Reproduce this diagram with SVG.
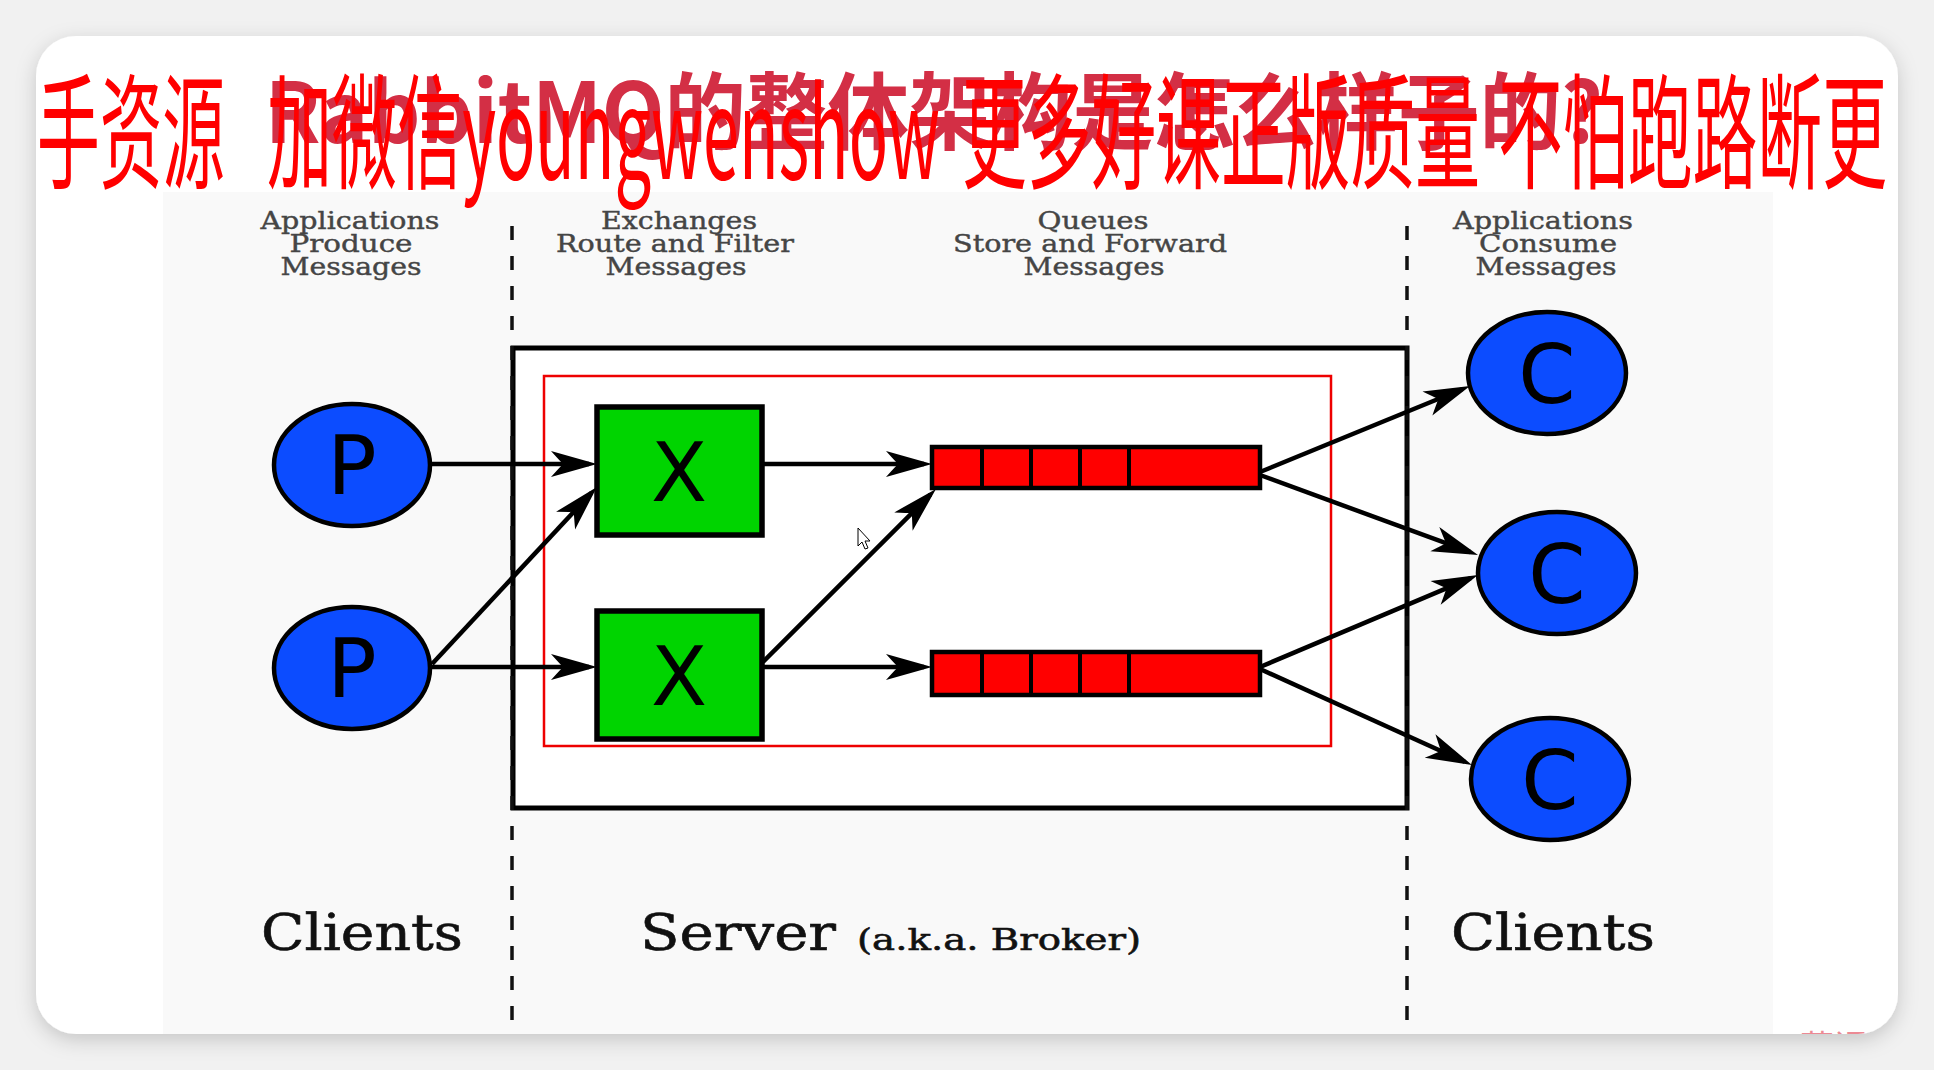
<svg xmlns="http://www.w3.org/2000/svg" width="1934" height="1070" viewBox="0 0 1934 1070">
  <style>
    .hdr { font-family: "DejaVu Serif", "Liberation Serif", serif; font-size: 24px; fill: #454545; text-anchor: middle; stroke: #454545; stroke-width: 0.4; }
    .foot { font-family: "DejaVu Serif", "Liberation Serif", serif; fill: #111; stroke: #111; stroke-width: 0.6; }
    .lbl { font-family: "DejaVu Sans", "Liberation Sans", sans-serif; font-size: 82px; fill: #000; text-anchor: middle; }
    .pc { fill: #0c4cff; stroke: #000; stroke-width: 4.5; }
    .ex { fill: #00d400; stroke: #000; stroke-width: 5.5; }
    .q { fill: #ff0000; stroke: #000; stroke-width: 4.5; }
    .qd { stroke: #000; stroke-width: 4; }
    .conn { stroke: #000; stroke-width: 4.5; fill: none; marker-end: url(#ah); }
    .dash { stroke: #111; stroke-width: 3.5; stroke-dasharray: 14 16; fill: none; }
    .wm { font-family: "Noto Sans CJK SC", "DejaVu Sans", sans-serif; font-size: 125px; fill: #ff0000; }
    .ttl { font-family: "Noto Sans CJK SC", "DejaVu Sans", sans-serif; font-weight: bold; font-size: 84px; fill: #d32f45; }
  </style>
  <defs>
    <marker id="ah" markerUnits="userSpaceOnUse" viewBox="-42 -15 52 30" refX="0" refY="0" markerWidth="52" markerHeight="30" orient="auto">
      <path d="M8,0 L-38,-13 Q-29,-3 -26,0 Q-29,3 -38,13 Z" fill="#000"/>
    </marker>
    <filter id="sh" x="-5%" y="-5%" width="110%" height="115%">
      <feDropShadow dx="0" dy="6" stdDeviation="10" flood-color="#000" flood-opacity="0.18"/>
    </filter>
    <clipPath id="cardclip">
      <rect x="36" y="36" width="1862" height="998" rx="40"/>
    </clipPath>
  </defs>

  <rect x="0" y="0" width="1934" height="1070" fill="#f1f1f1"/>
  <rect x="36" y="36" width="1862" height="998" rx="40" fill="#ffffff" filter="url(#sh)"/>
  <rect x="163" y="192" width="1610" height="842" fill="#f9f9f9"/>

  <g id="headers">
    <text class="hdr" x="350" y="229" textLength="179" lengthAdjust="spacingAndGlyphs">Applications</text>
    <text class="hdr" x="351" y="252" textLength="123" lengthAdjust="spacingAndGlyphs">Produce</text>
    <text class="hdr" x="351" y="275" textLength="141" lengthAdjust="spacingAndGlyphs">Messages</text>
    <text class="hdr" x="679" y="229" textLength="156" lengthAdjust="spacingAndGlyphs">Exchanges</text>
    <text class="hdr" x="675" y="252" textLength="238" lengthAdjust="spacingAndGlyphs">Route and Filter</text>
    <text class="hdr" x="676" y="275" textLength="141" lengthAdjust="spacingAndGlyphs">Messages</text>
    <text class="hdr" x="1093" y="229" textLength="111" lengthAdjust="spacingAndGlyphs">Queues</text>
    <text class="hdr" x="1090" y="252" textLength="274" lengthAdjust="spacingAndGlyphs">Store and Forward</text>
    <text class="hdr" x="1094" y="275" textLength="141" lengthAdjust="spacingAndGlyphs">Messages</text>
    <text class="hdr" x="1543" y="229" textLength="180" lengthAdjust="spacingAndGlyphs">Applications</text>
    <text class="hdr" x="1548" y="252" textLength="138" lengthAdjust="spacingAndGlyphs">Consume</text>
    <text class="hdr" x="1546" y="275" textLength="141" lengthAdjust="spacingAndGlyphs">Messages</text>
  </g>

  <g id="broker">
    <rect x="513" y="348" width="894" height="460" fill="#ffffff" stroke="#000" stroke-width="5"/>
  </g>
  <g id="highlight">
    <rect x="544" y="376" width="787" height="370" fill="#ffffff" stroke="#ee0000" stroke-width="2.5"/>
  </g>

  <g id="dividers">
    <line class="dash" x1="512" y1="226" x2="512" y2="1034"/>
    <line class="dash" x1="1407" y1="226" x2="1407" y2="1034"/>
  </g>

  <g id="connectors">
    <line class="conn" x1="431" y1="464" x2="589" y2="464"/>
    <line class="conn" x1="431" y1="667" x2="589" y2="667"/>
    <line class="conn" x1="432" y1="664" x2="591.5" y2="492.8"/>
    <line class="conn" x1="763" y1="464" x2="924" y2="464"/>
    <line class="conn" x1="763" y1="667" x2="924" y2="667"/>
    <line class="conn" x1="763" y1="662" x2="930.3" y2="494.7"/>
    <line class="conn" x1="1260" y1="472" x2="1462.6" y2="389"/>
    <line class="conn" x1="1260" y1="475" x2="1470.5" y2="552.2"/>
    <line class="conn" x1="1260" y1="667" x2="1470.6" y2="578.1"/>
    <line class="conn" x1="1260" y1="669" x2="1464.7" y2="761.7"/>
  </g>

  <g id="producer1">
    <ellipse class="pc" cx="352" cy="465" rx="78" ry="61"/>
    <text class="lbl" x="352" y="494">P</text>
  </g>
  <g id="producer2">
    <ellipse class="pc" cx="352" cy="668" rx="78" ry="61"/>
    <text class="lbl" x="352" y="697">P</text>
  </g>

  <g id="exchange1">
    <rect class="ex" x="597" y="407" width="165" height="128"/>
    <text class="lbl" x="679" y="501">X</text>
  </g>
  <g id="exchange2">
    <rect class="ex" x="597" y="611" width="165" height="128"/>
    <text class="lbl" x="679" y="705">X</text>
  </g>

  <g id="queue1">
    <rect class="q" x="932" y="447" width="328" height="41"/>
    <line class="qd" x1="982" y1="447" x2="982" y2="488"/>
    <line class="qd" x1="1031" y1="447" x2="1031" y2="488"/>
    <line class="qd" x1="1080" y1="447" x2="1080" y2="488"/>
    <line class="qd" x1="1129" y1="447" x2="1129" y2="488"/>
  </g>
  <g id="queue2">
    <rect class="q" x="932" y="652" width="328" height="43"/>
    <line class="qd" x1="982" y1="652" x2="982" y2="695"/>
    <line class="qd" x1="1031" y1="652" x2="1031" y2="695"/>
    <line class="qd" x1="1080" y1="652" x2="1080" y2="695"/>
    <line class="qd" x1="1129" y1="652" x2="1129" y2="695"/>
  </g>

  <g id="consumer1">
    <ellipse class="pc" cx="1547" cy="373" rx="79" ry="61"/>
    <text class="lbl" x="1547" y="403">C</text>
  </g>
  <g id="consumer2">
    <ellipse class="pc" cx="1557" cy="573" rx="79" ry="61"/>
    <text class="lbl" x="1557" y="603">C</text>
  </g>
  <g id="consumer3">
    <ellipse class="pc" cx="1550" cy="779" rx="79" ry="61"/>
    <text class="lbl" x="1550" y="809">C</text>
  </g>

  <g id="footer">
    <text class="foot" x="261" y="950" font-size="50" textLength="202" lengthAdjust="spacingAndGlyphs">Clients</text>
    <text class="foot" x="640" y="950" font-size="50" textLength="196" lengthAdjust="spacingAndGlyphs">Server</text>
    <text class="foot" x="857" y="950" font-size="30" textLength="284" lengthAdjust="spacingAndGlyphs">(a.k.a. Broker)</text>
    <text class="foot" x="1451" y="950" font-size="50" textLength="204" lengthAdjust="spacingAndGlyphs">Clients</text>
  </g>

  <g id="cursor">
    <path d="M858,528 L858,546 L862,542 L865,549 L868,548 L865,541 L870,541 Z" fill="#fff" stroke="#000" stroke-width="1"/>
  </g>

  <g id="logo" clip-path="url(#cardclip)">
    <text x="1800" y="1060" font-family="Noto Sans CJK SC, sans-serif" font-size="34" fill="#ec8a94">慕课网</text>
  </g>

  <g id="title">
    <text class="ttl" x="265" y="143" textLength="1338" lengthAdjust="spacingAndGlyphs">RabbitMQ的整体架构是怎么样子的?</text>
  </g>
  <g id="watermark">
    <text class="wm" x="37" y="179" textLength="188" lengthAdjust="spacingAndGlyphs">手资源</text>
    <text class="wm" x="267" y="179" textLength="673" lengthAdjust="spacingAndGlyphs">加微信youngwenshow</text>
    <text class="wm" x="962" y="179" textLength="518" lengthAdjust="spacingAndGlyphs">更多好课正版质量</text>
    <text class="wm" x="1498" y="179" textLength="389" lengthAdjust="spacingAndGlyphs">不怕跑路断更</text>
  </g>
</svg>
